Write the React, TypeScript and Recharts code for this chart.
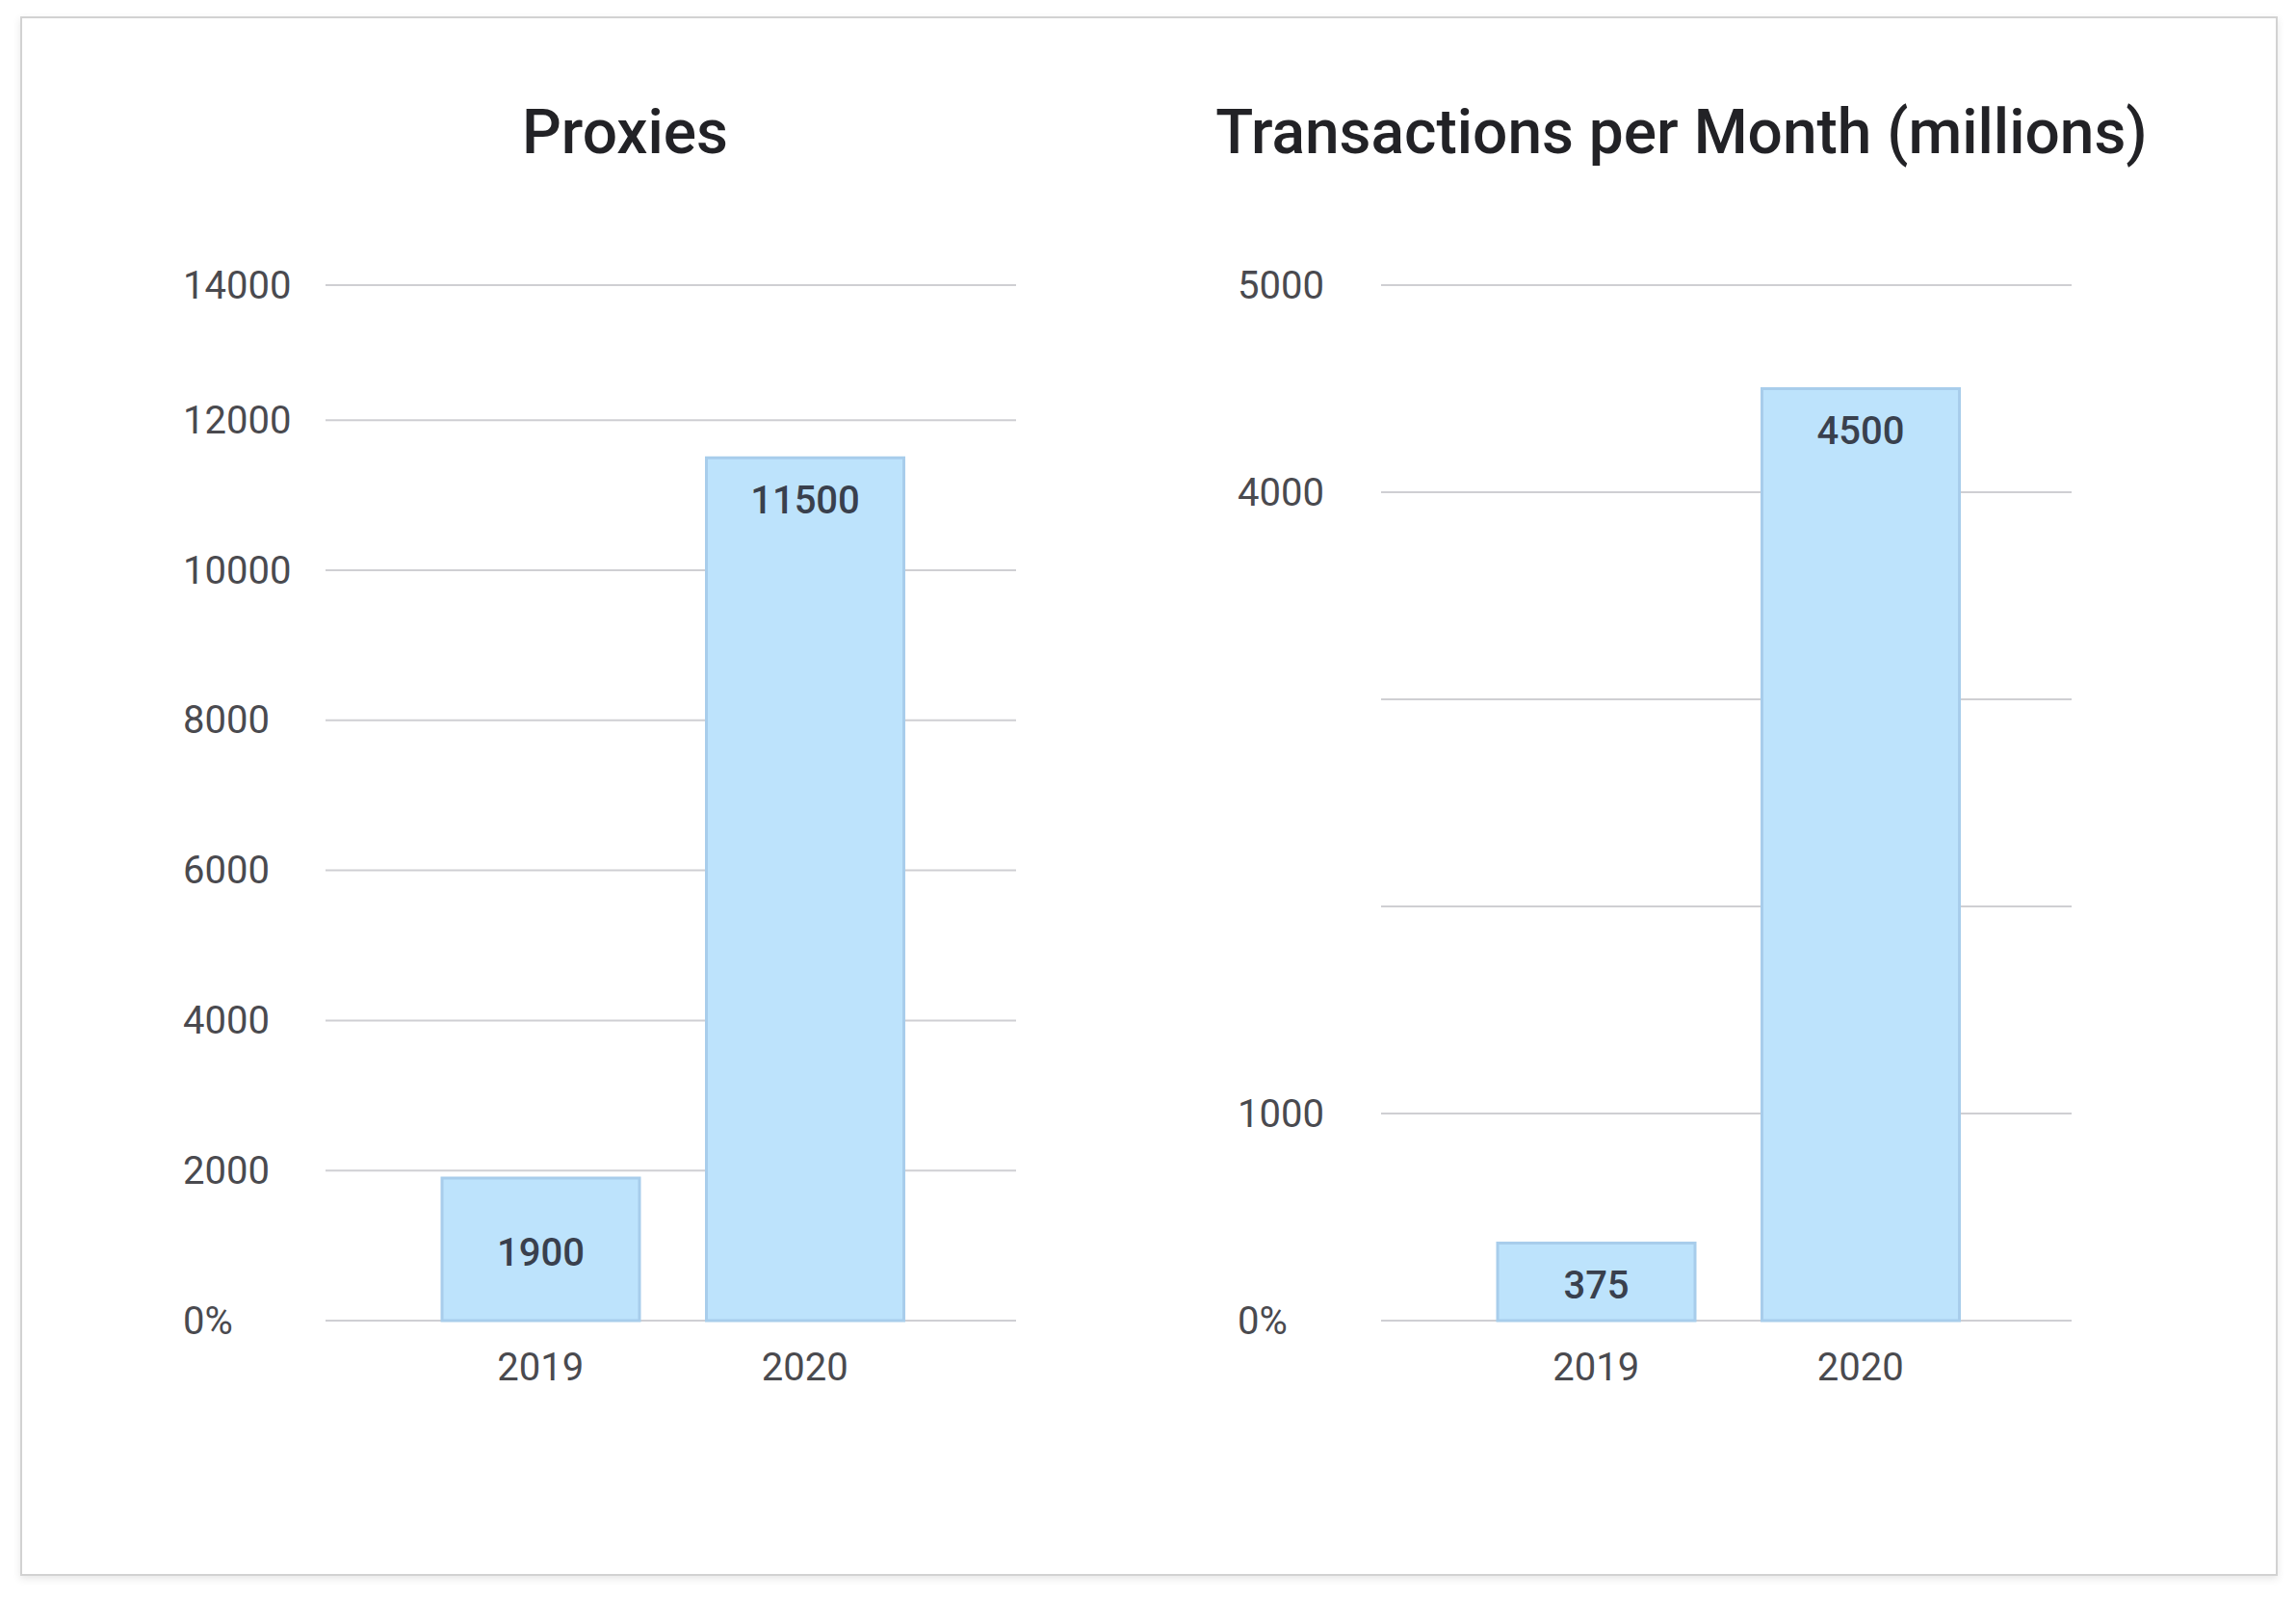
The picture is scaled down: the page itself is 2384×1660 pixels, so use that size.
import React from 'react';
import { BarChart, Bar, XAxis, YAxis, CartesianGrid, LabelList } from 'recharts';

const categories = ['2019', '2020'];
const proxiesValues = [1900, 11500];
const transactionsValues = [375, 4500];
const proxiesTicks = [0, 2000, 4000, 6000, 8000, 10000, 12000, 13800];
const proxiesTickLabels = ['0%', '2000', '4000', '6000', '8000', '10000', '12000', '14000'];
const transactionsTicks = [0, 1000, 2000, 3000, 4000, 5000];
const transactionsTickLabels = ['0%', '1000', '', '', '4000', '5000'];

const FONT = 'Roboto, "Noto Sans", sans-serif';

const renderValueLabel = (props: any) => {
  const { x, y, width, height, value } = props;
  const cy = height < 200 ? y + height / 2 + 4 : y + 44;
  return (
    <text
      x={x + width / 2}
      y={cy}
      textAnchor="middle"
      dominantBaseline="central"
      fontFamily={FONT}
      fontWeight={500}
      fontSize={40}
      fill="#39404d"
    >
      {value}
    </text>
  );
};

type PanelProps = {
  title: string;
  values: number[];
  ticks: number[];
  tickLabels: string[];
  left: number;
  yAxisWidth: number;
  labelX: number;
  marginRight: number;
  titleCenter: number;
};

const Panel = ({ title, values, ticks, tickLabels, left, yAxisWidth, labelX, marginRight, titleCenter }: PanelProps) => {
  const data = categories.map((c, i) => ({ name: c, value: values[i] }));
  const YTick = (p: any) => {
    const idx = ticks.indexOf(p.payload.value);
    return (
      <text x={labelX} y={p.y} textAnchor="start" dominantBaseline="central" fontFamily={FONT} fontSize={40} fill="#4a4a4f">
        {tickLabels[idx]}
      </text>
    );
  };
  const XTick = (p: any) => (
    <text x={p.x} y={1169} textAnchor="middle" dominantBaseline="central" fontFamily={FONT} fontSize={40} fill="#4a4a4f">
      {p.payload.value}
    </text>
  );
  return (
    <>
      <div
        style={{
          position: 'absolute',
          left: titleCenter - 700,
          width: 1400,
          top: 106,
          textAlign: 'center',
          fontFamily: FONT,
          fontWeight: 500,
          fontSize: 64,
          lineHeight: '64px',
          color: '#222226',
        }}
      >
        {title}
      </div>
      <div style={{ position: 'absolute', left, top: 250 }}>
        <BarChart width={1000} height={1220} data={data} margin={{ top: 46, right: marginRight, bottom: 39, left: 0 }}>
          <CartesianGrid vertical={false} stroke="#cfcfd3" strokeWidth={2} />
          <XAxis
            dataKey="name"
            axisLine={false}
            tickLine={false}
            height={60}
            padding={{ left: 86, right: 82 }}
            tick={<XTick />}
            interval={0}
          />
          <YAxis
            type="number"
            domain={[ticks[0], ticks[ticks.length - 1]]}
            ticks={ticks}
            interval={0}
            axisLine={false}
            tickLine={false}
            width={yAxisWidth}
            tick={<YTick />}
          />
          <Bar dataKey="value" fill="#bde3fc" stroke="#a8cdeb" strokeWidth={3} barSize={205} isAnimationActive={false}>
            <LabelList dataKey="value" content={renderValueLabel} />
          </Bar>
        </BarChart>
      </div>
    </>
  );
};

export default function App() {
  return (
    <div style={{ position: 'fixed', left: 0, top: 0, width: 2384, height: 1660, background: '#ffffff', overflow: 'hidden' }}>
      <div
        style={{
          position: 'absolute',
          left: 21,
          top: 17,
          width: 2340,
          height: 1615,
          border: '2px solid #d2d2d2',
          boxShadow: '0 3px 8px rgba(0,0,0,0.10)',
          background: '#ffffff',
        }}
      />
      <Panel
        title="Proxies"
        values={proxiesValues}
        ticks={proxiesTicks}
        tickLabels={proxiesTickLabels}
        left={150}
        yAxisWidth={188}
        labelX={40}
        marginRight={95}
        titleCenter={649}
      />
      <Panel
        title="Transactions per Month (millions)"
        values={transactionsValues}
        ticks={transactionsTicks}
        tickLabels={transactionsTickLabels}
        left={1250}
        yAxisWidth={184}
        labelX={35}
        marginRight={99}
        titleCenter={1746}
      />
    </div>
  );
}
